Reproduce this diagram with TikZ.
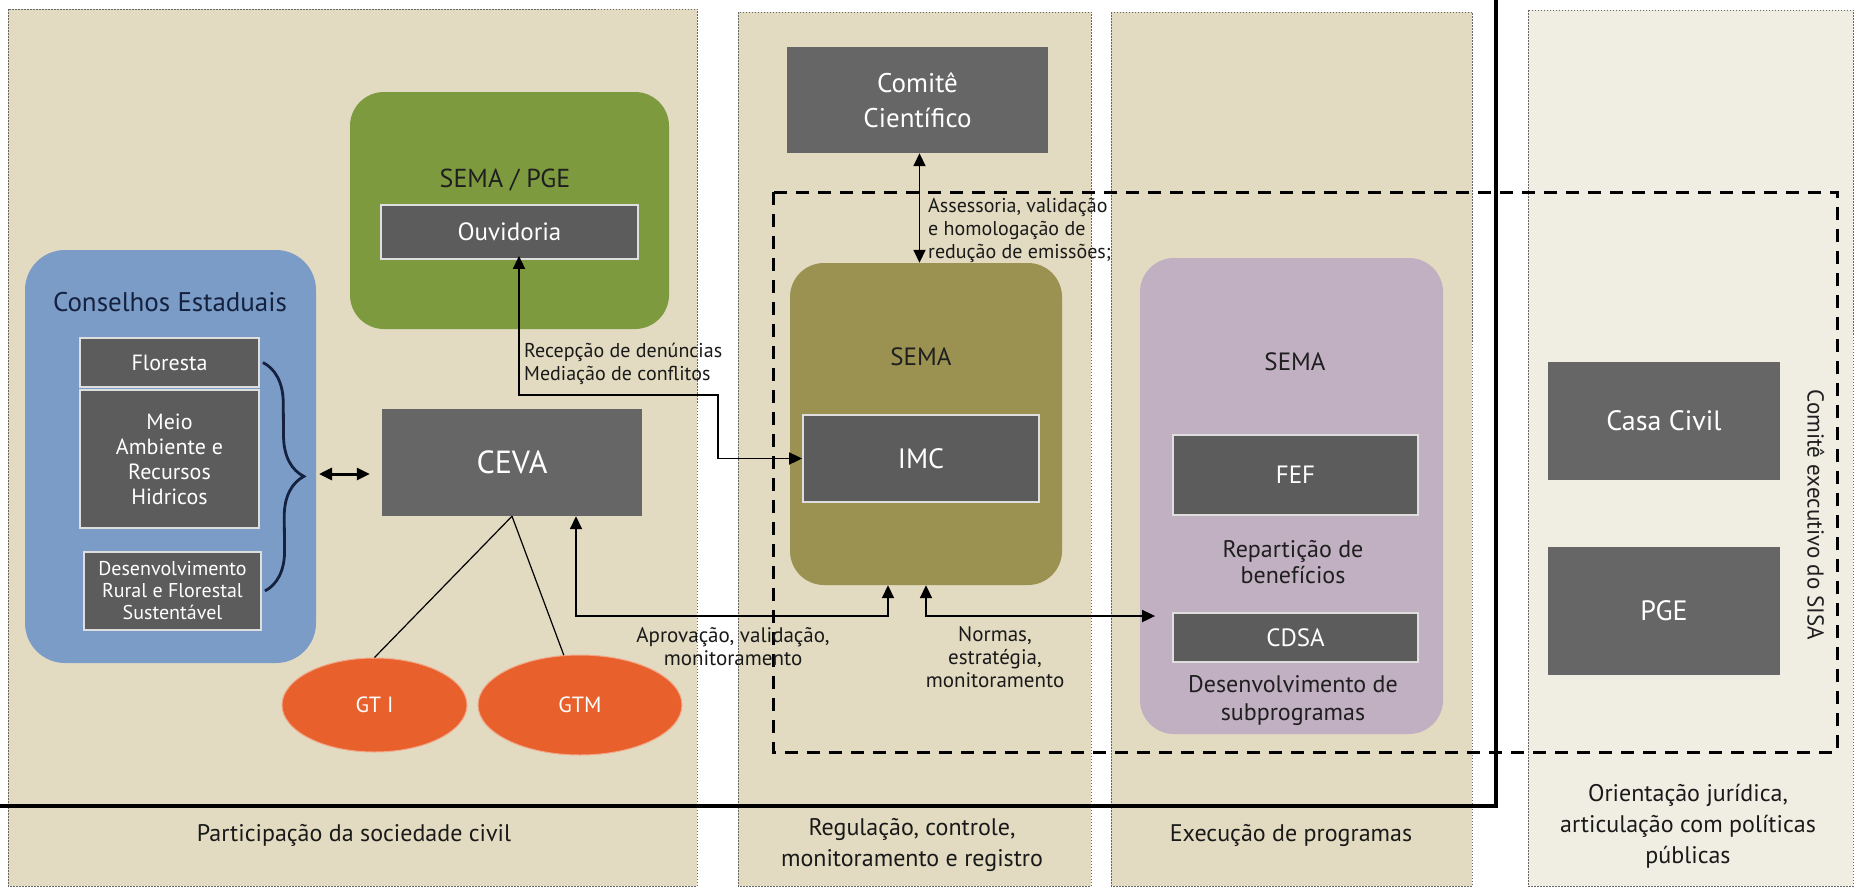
\documentclass[tikz,border=0pt]{standalone}
\usepackage{fontspec}
\setmainfont{PT Sans}
\usetikzlibrary{positioning,shapes.geometric,decorations.pathreplacing,arrows.meta}
\definecolor{colbg}{HTML}{E2DBC1}
\definecolor{colbglight}{HTML}{F0EDE3}
\definecolor{conblue}{HTML}{7C9CC8}
\definecolor{semagreen}{HTML}{7E9A3F}
\definecolor{semaolive}{HTML}{9B9252}
\definecolor{semalilac}{HTML}{C1AFC2}
\definecolor{boxgrey}{HTML}{5C5C5C}
\definecolor{gtorange}{HTML}{E8612C}
\definecolor{navy}{HTML}{15223F}
\newcommand{\fsz}[2]{\fontsize{#1}{#2}\selectfont}
\tikzset{
  column/.style={draw=black!60,dash pattern=on 1.5pt off 1.5pt,line width=1pt,fill=colbg},
  org/.style={rounded corners=34pt,inner sep=0pt},
  unit/.style={fill=boxgrey,text=white,draw=white!80!boxgrey,line width=1.8pt,inner sep=0pt,align=center},
  plainunit/.style={fill=boxgrey!94!white,text=white,inner sep=0pt,align=center},
  gt/.style={ellipse,fill=gtorange,draw=gtorange!55!white,line width=1pt,text=white,inner sep=0pt,font=\fsz{22}{26}},
  title/.style={text=black!88,inner sep=0pt,font=\fsz{25}{30}},
  note/.style={text=black!90,inner sep=0pt,align=left,font=\fsz{20}{23}},
  caption/.style={text=black!90,inner sep=0pt,align=center,font=\fsz{24}{31}},
  flow/.style={line width=1.8pt,{Triangle[length=13pt,width=12pt]}-{Triangle[length=13pt,width=12pt]}},
  frame/.style={line width=3pt,dash pattern=on 13pt off 9pt}
}
\begin{document}
\begin{tikzpicture}[x=1pt,y=-1pt]
\useasboundingbox (0,0) rectangle (1860,889);
\fill[white] (0,0) rectangle (1860,889);
\draw[column] (8,9) rectangle (697,886);
\draw[column] (738,12) rectangle (1091,886);
\draw[column] (1111,12) rectangle (1472,886);
\draw[column,fill=colbglight] (1528,10) rectangle (1853,886);
\node[caption] (partcap) at (354,835) {Participação da sociedade civil};
\node[caption] (regcap) at (912,845) {Regulação, controle,\\monitoramento e registro};
\node[caption] (execcap) at (1291,835) {Execução de programas};
\node[caption] (orientcap) at (1688,826) {Orientação jurídica,\\articulação com políticas\\públicas};
\draw[frame] (773,192) rectangle (1837,752);
\draw[line width=4pt] (0,806) -| (1496,0);
\node[org,rounded corners=40pt,fill=conblue,minimum width=291pt,minimum height=413pt] (conselhos) at (170.5,456.5) {};
\node[org,fill=semagreen,minimum width=319pt,minimum height=237pt] (semapge) at (509.5,210.5) {};
\node[org,fill=semaolive,minimum width=272pt,minimum height=322pt] (semaimc) at (926,424) {};
\node[org,fill=semalilac,minimum width=303pt,minimum height=476pt] (semafef) at (1291.5,496) {};
\node[inner sep=0pt,text=navy,font=\fsz{27}{30}] (conselhostitle) at (170,302) {Conselhos Estaduais};
\node[title,font=\fsz{26}{30}] (pgetitle) at (505,180) {SEMA / PGE};
\node[title] (imctitle) at (921,357) {SEMA};
\node[title] (feftitle) at (1295,362) {SEMA};
\node[unit,minimum width=179pt,minimum height=49pt,font=\fsz{22}{26}] (floresta) at (169.5,362.5) {Floresta};
\node[unit,minimum width=179pt,minimum height=138pt,font=\fsz{22}{25}] (meio) at (169.5,459) {Meio\\Ambiente e\\Recursos\\Hidricos};
\node[unit,minimum width=177pt,minimum height=78pt,font=\fsz{20}{22}] (desenv) at (172.5,591) {Desenvolvimento\\Rural e Florestal\\Sustentável};
\node[unit,minimum width=257pt,minimum height=54pt,font=\fsz{25}{28}] (ouvidoria) at (509.5,232) {Ouvidoria};
\node[plainunit,minimum width=260pt,minimum height=107pt,font=\fsz{32}{36}] (ceva) at (512,462.5) {CEVA};
\node[gt,minimum width=185pt,minimum height=94pt] (gti) at (374.5,705) {GT I};
\node[gt,minimum width=204pt,minimum height=100pt] (gtm) at (580,705) {GTM};
\node[plainunit,minimum width=261pt,minimum height=106pt,font=\fsz{27}{35}] (comite) at (917.5,100) {Comitê\\Científico};
\node[unit,minimum width=236pt,minimum height=87pt,font=\fsz{28}{30}] (imc) at (921,458.5) {IMC};
\node[unit,minimum width=245pt,minimum height=80pt,font=\fsz{25}{30}] (fef) at (1295.5,475) {FEF};
\node[title,align=center,font=\fsz{24}{26}] (repart) at (1293,562) {Repartição de\\benefícios};
\node[unit,minimum width=245pt,minimum height=49pt,font=\fsz{25}{30}] (cdsa) at (1295.5,637.5) {CDSA};
\node[title,align=center,font=\fsz{24}{28}] (subprog) at (1293,701) {Desenvolvimento de\\subprogramas};
\node[plainunit,minimum width=232pt,minimum height=118pt,font=\fsz{28}{30}] (casacivil) at (1664,421) {Casa Civil};
\node[plainunit,minimum width=232pt,minimum height=128pt,font=\fsz{28}{30}] (pge) at (1664,611) {PGE};
\node[title,rotate=-90,font=\fsz{23}{26}] (comiteexec) at (1816,515) {Comitê executivo do SISA};
\draw[navy,line width=2.8pt,decorate,decoration={brace,amplitude=40pt}] ([xshift=3pt]floresta.east) -- ([xshift=3pt]desenv.east);
\coordinate (bracetip) at (302,474);
\draw[flow,line width=3pt] ([xshift=17pt]bracetip) -- ([xshift=-12pt]ceva.west |- bracetip);
\draw[line width=1.2pt] (ceva.south) -- (gti.north);
\draw[line width=1.2pt] (ceva.south) -- (gtm.108);
\coordinate (ouvdrop) at (519,395);
\coordinate (ouvturn) at (718,395);
\draw[flow] ([yshift=4pt]ouvdrop |- ouvidoria.south) -- (ouvdrop) -- (ouvturn) |- (imc.west);
\node[note,anchor=west] (recepcao) at (524,364) {Recepção de denúncias\\Mediação de conflitos};
\draw[flow] ([xshift=2pt]comite.south) -- ([xshift=2pt]comite.south |- semaimc.north);
\node[note,anchor=west] (assessoria) at (928,230) {Assessoria, validação\\e homologação de\\redução de emissões;};
\coordinate (aprturn) at (576,616);
\draw[flow] (aprturn |- ceva.south) -- (aprturn) -| ([xshift=-38pt]semaimc.south);
\node[note,align=center,font=\fsz{21}{23}] (aprovacao) at (733,647) {Aprovação, validação,\\monitoramento};
\draw[flow] (semaimc.south) |- ([xshift=-17pt]cdsa.west |- aprturn);
\node[note,align=center,font=\fsz{21}{23}] (normas) at (995,657) {Normas,\\estratégia,\\monitoramento};
\end{tikzpicture}
\end{document}
